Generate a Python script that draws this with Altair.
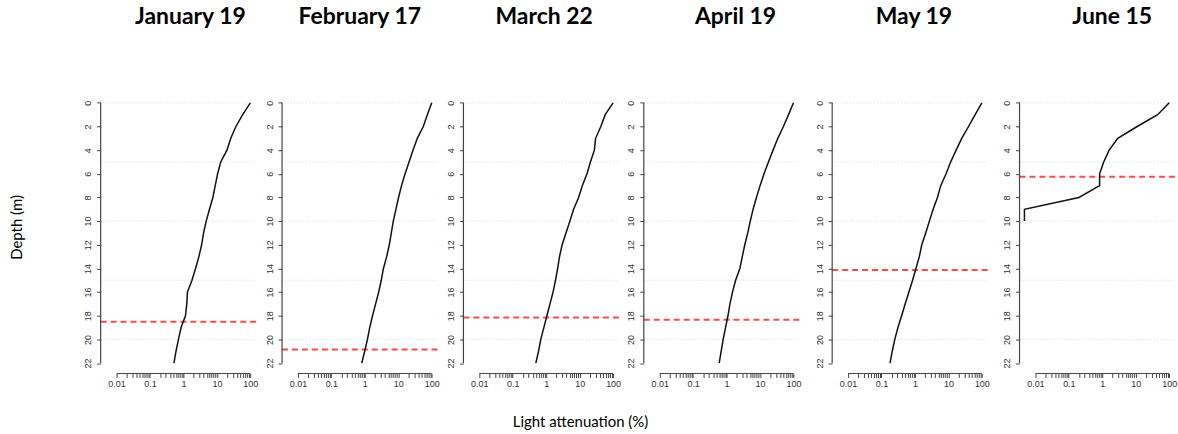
import altair as alt
import pandas as pd

# ---------------- data ----------------
titles = ["January 19", "February 17", "March 22", "April 19", "May 19", "June 15"]
depths = list(range(23))
jun_depths = list(range(11))

jan = [100, 59, 37, 26, 20, 13, 10.5, 8.9, 7.6, 6.0, 4.8, 4.0, 3.5, 2.9, 2.3, 1.8, 1.32, 1.26, 1.15, 0.85, 0.71, 0.60, 0.52]
feb = [100, 74, 56, 37, 27.5, 21, 16, 12.5, 10.2, 8.5, 7.1, 6.2, 5.4, 4.5, 3.6, 3.1, 2.6, 2.1, 1.7, 1.4, 1.2, 0.99, 0.81]
mar = [100, 58, 43, 30, 27.5, 21, 16.6, 12, 9.3, 6.6, 5.1, 3.9, 3.0, 2.5, 2.2, 1.9, 1.6, 1.3, 1.05, 0.85, 0.69, 0.59, 0.49]
apr = [100, 71, 50, 34, 24.5, 17.8, 13.2, 10, 7.8, 6.2, 5.1, 4.3, 3.5, 2.95, 2.5, 1.86, 1.5, 1.26, 1.1, 0.93, 0.79, 0.69, 0.60]
may = [100, 63, 40, 25, 17, 11.7, 8.5, 5.9, 4.7, 3.5, 2.7, 2.1, 1.6, 1.35, 1.07, 0.85, 0.66, 0.51, 0.40, 0.31, 0.25, 0.21, 0.18]
jun = [100, 45, 11, 2.9, 1.6, 1.1, 0.83, 0.83, 0.20, 0.0047, 0.0047]

series = [jan, feb, mar, apr, may, jun]
series_depths = [depths, depths, depths, depths, depths, jun_depths]

euphotic = [18.5, 20.85, 18.14, 18.34, 14.14, 6.25]

grid_depths = [0, 5, 10, 15, 20]
y_ticks = list(range(0, 23, 2))
x_ticks = [round(m * 10 ** e, 6) for e in range(-2, 2) for m in range(1, 10)] + [100]
axis_line_x = [0.01, 100]
axis_line_y = [0, 22]

# ---------------- layout / style ----------------
W, H = 156, 282
gaps = [26, 26, 25, 33, 32]
XMIN, XMAX = 10 ** -2.474, 10 ** 2.173
YMIN, YMAX = -0.88, 22.88
title_dx = [12, 0, 3, 14, 4, 15]
AX = "#444444"
LBL = "#333333"
TICKFONT = "Liberation Sans"
TFONT = "Lato"

label_expr = "indexof([0.01,0.1,1,10,100], datum.value) >= 0 ? format(datum.value, '~g') : ''"


def make_panel(i):
    xscale = alt.Scale(type="log", domain=[XMIN, XMAX], nice=False)
    yscale = alt.Scale(domain=[YMIN, YMAX], reverse=True, nice=False, zero=False)

    xaxis_kw = dict(
        values=x_ticks, labelExpr=label_expr, domain=False, grid=False,
        tickSize=4, tickColor=AX, tickWidth=1,
        labelFont=TICKFONT, labelFontSize=9, labelColor=LBL, labelPadding=2,
        labelOverlap=False, labelFlush=False,
    )
    if i == 3:
        xaxis_kw.update(title="Light attenuation (%)", titleX=-64, titleY=48,
                        titleAlign="center", titleBaseline="middle",
                        titleFont=TFONT, titleFontSize=15, titleFontWeight="normal",
                        titleColor="black")
    else:
        xaxis_kw.update(title="")
    yaxis_kw = dict(
        values=y_ticks, domain=False, grid=False, tickSize=4, tickColor=AX, tickWidth=1,
        labelAngle=270, labelAlign="center", labelBaseline="bottom", labelPadding=4,
        labelFont=TICKFONT, labelFontSize=9, labelColor=LBL,
        labelOverlap=False, labelFlush=False,
    )
    if i == 0:
        yaxis_kw.update(title="Depth (m)", titleX=-84, titleY=135, titleAngle=270,
                        titleAlign="center", titleBaseline="middle",
                        titleFont=TFONT, titleFontSize=15, titleFontWeight="normal",
                        titleColor="black")
    else:
        yaxis_kw.update(title="")

    X = alt.X("light:Q", scale=xscale, axis=alt.Axis(**xaxis_kw))
    Y = alt.Y("depth:Q", scale=yscale, axis=alt.Axis(**yaxis_kw))

    df = pd.DataFrame({"depth": series_depths[i], "light": series[i]})

    line = alt.Chart(df).mark_line(color="#111111", strokeWidth=1.5).encode(
        x=X, y=Y, order="depth:Q"
    )

    grid = alt.Chart(pd.DataFrame({"depth": grid_depths})).mark_rule(
        color="#d9d9d9", strokeDash=[1, 2], strokeWidth=1
    ).encode(y=Y, x=alt.value(0), x2=alt.value(W))

    red = alt.Chart(pd.DataFrame({"depth": [euphotic[i]]})).mark_rule(
        color="#ff4a4a", strokeDash=[6, 4], strokeWidth=2
    ).encode(y=Y, x=alt.value(0), x2=alt.value(W))

    xline = alt.Chart(pd.DataFrame({"light": [axis_line_x[0]], "l2": [axis_line_x[1]]})).mark_rule(
        color=AX, strokeWidth=1
    ).encode(x=X, x2="l2:Q", y=alt.value(H))

    yline = alt.Chart(pd.DataFrame({"depth": [axis_line_y[0]], "d2": [axis_line_y[1]]})).mark_rule(
        color=AX, strokeWidth=1.2
    ).encode(y=Y, y2="d2:Q", x=alt.value(0))

    return alt.layer(grid, red, xline, yline, line).properties(
        width=W, height=H,
        title=alt.TitleParams(
            titles[i], font=TFONT, fontSize=23, fontWeight="bold", color="black",
            anchor="middle", dx=title_dx[i], offset=46, baseline="alphabetic", frame="group",
        ),
    )


def spacer(w):
    return alt.Chart(pd.DataFrame({"s": [0]})).mark_point(opacity=0, size=1).encode(
        x=alt.value(0), y=alt.value(0)
    ).properties(width=w, height=H)


items = []
for i in range(6):
    items.append(make_panel(i))
    if i < 5:
        items.append(spacer(gaps[i]))

chart = alt.hconcat(*items, spacing=0, bounds="flush").properties(
    padding={"left": 9, "top": 4, "right": 0, "bottom": 5}
).configure_view(stroke="transparent")

chart.save("out.html", embed_options={"renderer": "svg", "actions": False})
